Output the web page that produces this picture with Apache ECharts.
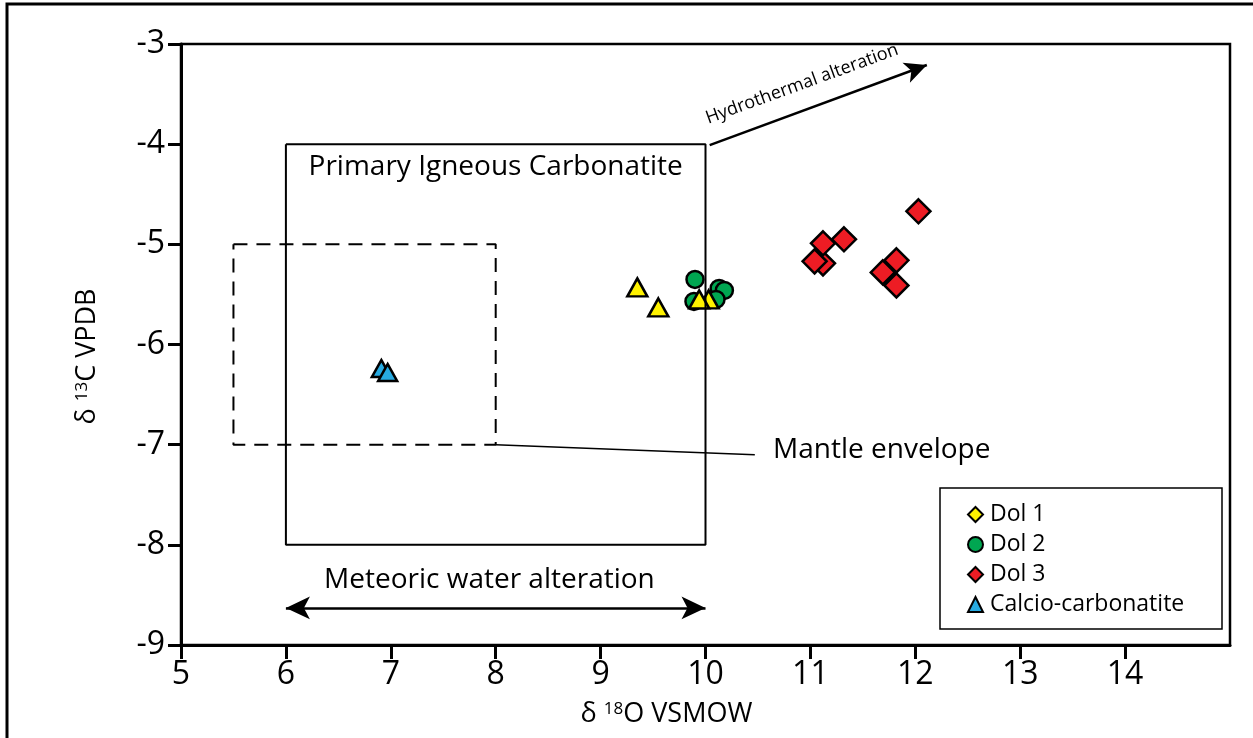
<!DOCTYPE html>
<html>
<head>
<meta charset="utf-8">
<script src="https://cdn.jsdelivr.net/npm/echarts@6/dist/echarts.min.js"></script>
<style>
html,body{margin:0;padding:0;background:#fff;}
#chart{width:1253px;height:738px;}
</style>
</head>
<body>
<div id="chart"></div>
<script>
// ---- data ----
const xTicks = [5, 6, 7, 8, 9, 10, 11, 12, 13, 14];
const yTicks = [-9, -8, -7, -6, -5, -4, -3];
const seriesNames = ['Dol 1', 'Dol 2', 'Dol 3', 'Calcio-carbonatite'];
const dol1 = [[9.35, -5.43], [9.55, -5.63], [10.03, -5.55], [9.94, -5.55]];
const dol2 = [[9.90, -5.35], [9.89, -5.57], [10.13, -5.44], [10.18, -5.46], [10.10, -5.55]];
const dol3 = [[11.12, -5.19], [12.03, -4.67], [11.04, -5.17], [11.12, -4.99], [11.32, -4.95], [11.82, -5.16], [11.69, -5.28], [11.82, -5.41]];
const calcio = [[6.91, -6.24], [6.97, -6.28]];
// annotation geometry (data units)
const primaryBox = [[6, -4], [10, -4], [10, -8], [6, -8], [6, -4]];
const mantleBox = [[5.5, -5], [8, -5], [8, -7], [5.5, -7], [5.5, -5]];
const mantlePointer = [[8, -7], [10.47, -7.1]];
const hydroArrow = [[10.04, -4.01], [12.11, -3.21]];
const meteoricArrow = [[6, -8.63], [10, -8.63]];

const FONT = 'Open Sans';
const chart = echarts.init(document.getElementById('chart'), null, {renderer: 'canvas'});

const markerBorder = {borderColor: '#000', borderWidth: 2.5, opacity: 1};

const option = {
  animation: false,
  backgroundColor: '#fff',
  textStyle: {fontFamily: FONT, color: '#000'},
  grid: {left: 181, top: 44, right: 23, bottom: 93, show: true, borderColor: '#000', borderWidth: 2.5, backgroundColor: 'transparent'},
  xAxis: {
    type: 'value', min: 5, max: 15, interval: 1,
    axisLine: {show: true, onZero: false, lineStyle: {color: '#000', width: 3}},
    axisTick: {show: true, length: 14, inside: false, customValues: xTicks, lineStyle: {color: '#000', width: 3}},
    axisLabel: {customValues: xTicks, fontSize: 32, color: '#000', margin: 14, fontFamily: FONT},
    splitLine: {show: false},
    name: '{d|δ }{s|18}{d|O VSMOW}',
    nameLocation: 'middle', nameGap: 56,
    nameTextStyle: {padding: [0, 78, 0, 0], rich: {d: {fontSize: 27, fontFamily: FONT, color: '#000'}, s: {fontSize: 17, fontFamily: FONT, color: '#000', verticalAlign: 'top'}}}
  },
  yAxis: {
    type: 'value', min: -9, max: -3, interval: 1,
    axisLine: {show: true, onZero: false, lineStyle: {color: '#000', width: 3}},
    axisTick: {show: true, length: 13, inside: false, customValues: yTicks, lineStyle: {color: '#000', width: 3}},
    axisLabel: {customValues: yTicks, fontSize: 32, color: '#000', margin: 16, fontFamily: FONT},
    splitLine: {show: false},
    name: '{d|δ }{s|13}{d|C VPDB}',
    nameLocation: 'middle', nameGap: 80, nameRotate: 90,
    nameTextStyle: {padding: [0, 24, 0, 0], rich: {d: {fontSize: 27, fontFamily: FONT, color: '#000'}, s: {fontSize: 17, fontFamily: FONT, color: '#000', verticalAlign: 'top'}}}
  },
  legend: {
    orient: 'vertical', left: 962, top: 498,
    itemWidth: 15, itemHeight: 15, itemGap: 7,
    textStyle: {fontSize: 23, fontFamily: FONT, color: '#000', lineHeight: 23, padding: [0, 0, 0, 2]},
    data: [
      {name: 'Dol 1', icon: 'diamond'},
      {name: 'Dol 2', icon: 'circle'},
      {name: 'Dol 3', icon: 'diamond'},
      {name: 'Calcio-carbonatite', icon: 'triangle'}
    ],
    z: 10
  },
  graphic: [
    {type: 'rect', shape: {x: 7, y: 4, width: 1400, height: 900}, style: {fill: 'none', stroke: '#000', lineWidth: 3}, silent: true, z: 0},
    {type: 'rect', shape: {x: 940, y: 488, width: 282, height: 141}, style: {fill: '#fff', stroke: '#000', lineWidth: 1.5}, silent: true, z: 5}
  ],
  series: [
    {name: 'Dol 2', type: 'scatter', data: dol2, symbol: 'circle', symbolSize: 17, itemStyle: Object.assign({color: '#00A651'}, markerBorder), z: 3},
    {name: 'Dol 1', type: 'scatter', data: dol1, symbol: 'triangle', symbolSize: [20, 18], itemStyle: Object.assign({color: '#FFF200'}, markerBorder), z: 3},
    {name: 'Dol 3', type: 'scatter', data: dol3, symbol: 'diamond', symbolSize: 24, itemStyle: Object.assign({color: '#ED1C24'}, markerBorder), z: 3},
    {name: 'Calcio-carbonatite', type: 'scatter', data: calcio, symbol: 'triangle', symbolSize: [19, 17], itemStyle: Object.assign({color: '#27AAE1'}, markerBorder), z: 3},
    {type: 'line', data: primaryBox, symbol: 'none', silent: true, z: 4, lineStyle: {color: '#000', width: 2}},
    {type: 'line', data: mantleBox, symbol: 'none', silent: true, z: 4, lineStyle: {color: '#000', width: 2, type: [14, 9]}},
    {type: 'line', data: mantlePointer, symbol: 'none', silent: true, z: 4, lineStyle: {color: '#000', width: 1.5},
      markLine: {
        silent: true, animation: false,
        label: {show: false},
        lineStyle: {color: '#000', width: 2.5, type: 'solid'},
        data: [
          [{coord: hydroArrow[0], symbol: 'none'}, {coord: hydroArrow[1], symbol: 'arrow', symbolSize: [16, 22]}],
          [{coord: meteoricArrow[0], symbol: 'arrow', symbolSize: [17, 24]}, {coord: meteoricArrow[1], symbol: 'arrow', symbolSize: [17, 24]}]
        ]
      }
    },
    {type: 'scatter', silent: true, symbolSize: 0, z: 5, itemStyle: {color: '#000', opacity: 1},
      label: {show: true, position: 'inside', formatter: p => p.name, color: '#000', textBorderWidth: 0, textBorderColor: 'transparent', fontFamily: FONT},
      data: [
        {name: 'Primary Igneous Carbonatite', value: [8.0, -4.23], label: {fontSize: 28}},
        {name: 'Mantle envelope', value: [11.68, -7.05], label: {fontSize: 28}},
        {name: 'Meteoric water alteration', value: [7.94, -8.35], label: {fontSize: 28}},
        {name: 'Hydrothermal alteration', value: [10.92, -3.40], label: {fontSize: 18, rotate: 20}}
      ]
    }
  ]
};
chart.setOption(option);
</script>
</body>
</html>
